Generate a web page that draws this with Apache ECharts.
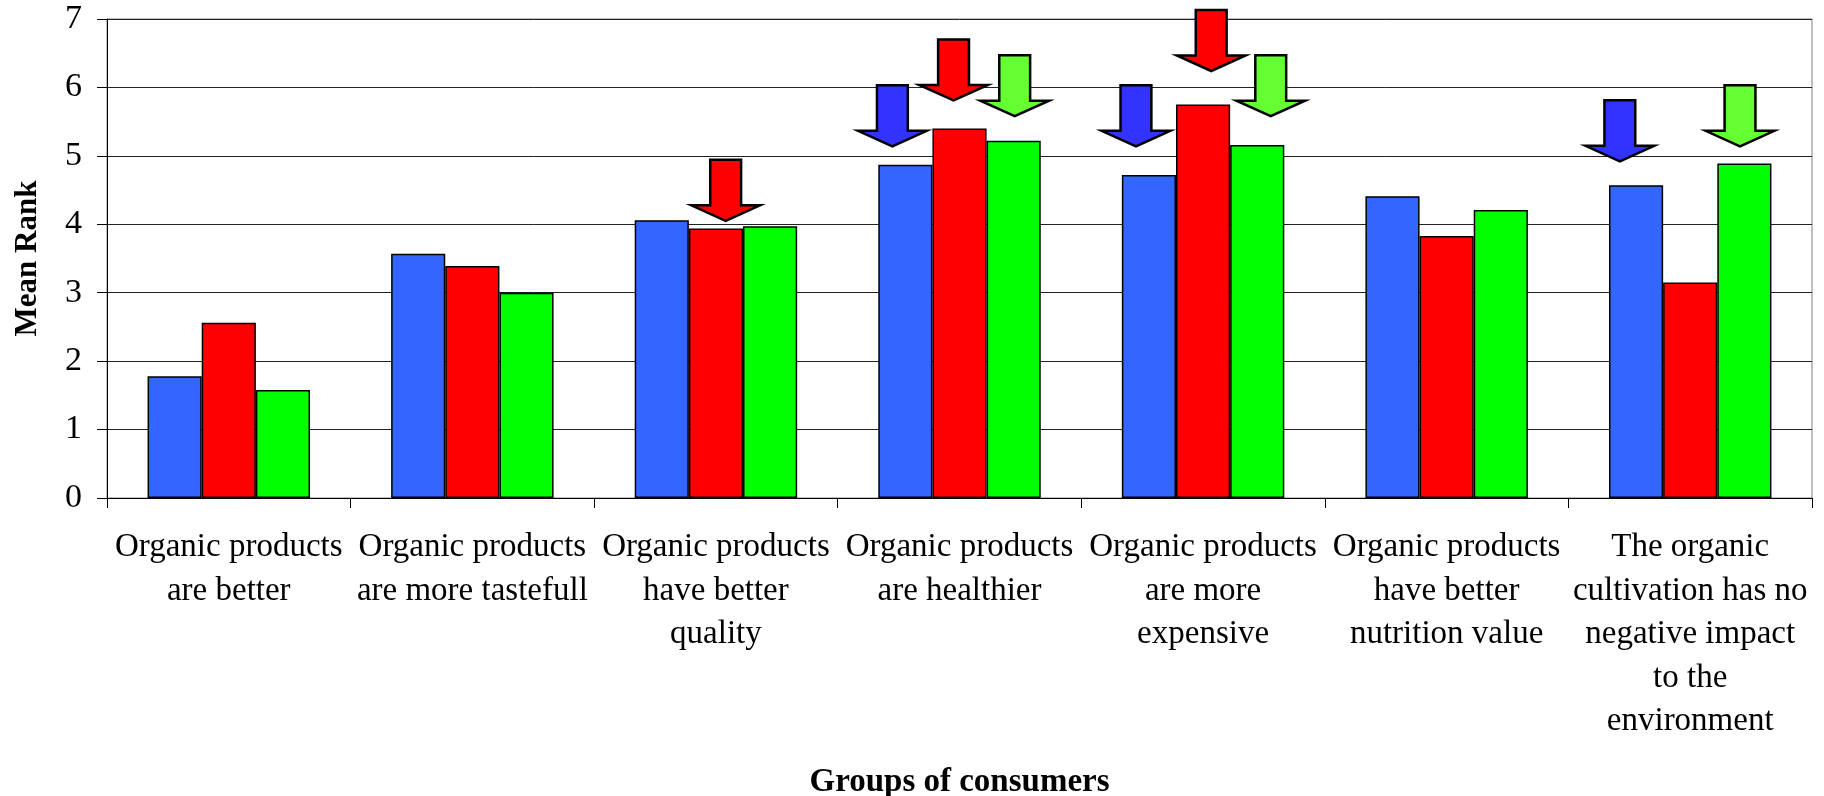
<!DOCTYPE html>
<html>
<head>
<meta charset="utf-8">
<script src="https://cdn.jsdelivr.net/npm/echarts@6/dist/echarts.min.js"></script>
<style>
html,body{margin:0;padding:0;background:#fff;}
#chart{width:1824px;height:796px;}
</style>
</head>
<body>
<div id="chart"></div>
<script>
// ---- data ----
const categories = [
  "Organic products\nare better",
  "Organic products\nare more tastefull",
  "Organic products\nhave better\nquality",
  "Organic products\nare healthier",
  "Organic products\nare more\nexpensive",
  "Organic products\nhave better\nnutrition value",
  "The organic\ncultivation has no\nnegative impact\nto the\nenvironment"
];
const seriesBlue  = [1.78, 3.57, 4.06, 4.87, 4.72, 4.41, 4.57];
const seriesRed   = [2.56, 3.39, 3.94, 5.40, 5.75, 3.83, 3.15];
const seriesGreen = [1.58, 3.00, 3.97, 5.22, 5.16, 4.21, 4.89];
const yTicks = [0, 1, 2, 3, 4, 5, 6, 7];
// highlighted bars (arrows): category index, series index, arrow tip value
const arrowCategory = [2, 3, 3, 3, 4, 4, 4, 6, 6];
const arrowSeries   = [1, 0, 1, 2, 0, 1, 2, 0, 2];
const arrowTip      = [4.05, 5.14, 5.81, 5.58, 5.14, 6.24, 5.58, 4.92, 5.14];

// ---- layout / style ----
const arrowNudge = [0.18, -0.24, -0.11, 0.02, -0.24, 0.15, 0.25, -0.30, -0.08]; // in bar widths
const barColors = ['#3366FF', '#FF0000', '#00FF00'];
const arrowColors = ['#3333FF', '#FF0000', '#66FF33'];
const FONT = '"Liberation Serif", "Times New Roman", serif';

const arrowData = arrowCategory.map((c, i) => [c, arrowSeries[i], arrowTip[i], i]);

const chart = echarts.init(document.getElementById('chart'), null, {renderer: 'canvas'});
const barStyle = (i) => ({color: barColors[i], borderColor: '#000', borderWidth: 1.5});

chart.setOption({
  animation: false,
  backgroundColor: '#fff',
  grid: {left: 107, right: 12, top: 19, bottom: 298, containLabel: false, outerBoundsMode: 'none',
         show: true, borderColor: '#808080', borderWidth: 1, backgroundColor: 'transparent'},
  xAxis: {
    type: 'category',
    data: categories,
    name: 'Groups of consumers',
    nameLocation: 'middle',
    nameGap: 268,
    nameTextStyle: {fontFamily: FONT, fontWeight: 'bold', fontSize: 33, color: '#000'},
    axisLine: {lineStyle: {color: '#000', width: 1}},
    axisTick: {show: true, length: 10, lineStyle: {color: '#000'}},
    axisLabel: {interval: 0, fontFamily: FONT, fontSize: 33, color: '#000', lineHeight: 43.5, margin: 28, align: 'center'},
    splitLine: {show: false}
  },
  yAxis: {
    type: 'value',
    min: yTicks[0],
    max: yTicks[yTicks.length - 1],
    interval: 1,
    name: 'Mean Rank',
    nameLocation: 'middle',
    nameRotate: 90,
    nameGap: 64,
    nameTextStyle: {fontFamily: FONT, fontWeight: 'bold', fontSize: 31, color: '#000'},
    axisLine: {show: true, lineStyle: {color: '#000', width: 1}},
    axisTick: {show: true, length: 10, lineStyle: {color: '#000'}},
    axisLabel: {fontFamily: FONT, fontSize: 34, color: '#000', margin: 25},
    splitLine: {show: true, lineStyle: {color: '#222', width: 1}}
  },
  series: [
    {type: 'bar', name: 'Blue', data: seriesBlue, itemStyle: barStyle(0), barGap: '0%', barCategoryGap: '33.3%', z: 2},
    {type: 'bar', name: 'Red', data: seriesRed, itemStyle: barStyle(1), barGap: '0%', barCategoryGap: '33.3%', z: 2},
    {type: 'bar', name: 'Green', data: seriesGreen, itemStyle: barStyle(2), barGap: '0%', barCategoryGap: '33.3%', z: 2},
    {
      type: 'custom',
      name: 'Arrows',
      data: arrowData,
      clip: false,
      z: 5,
      encode: {x: 0, y: 2},
      renderItem: function (params, api) {
        const cat = api.value(0), s = api.value(1), tip = api.value(2), idx = api.value(3);
        const p = api.coord([cat, tip]);
        const catW = api.size([1, 0])[0];
        const barW = catW / 4.5;
        const cx = p[0] + (s - 1) * barW + arrowNudge[idx] * barW;
        const ty = p[1];
        const headH = 15.5, shaftH = 45.5;
        const headHalf = barW * 0.635, shaftHalf = barW * 0.285;
        const pts = [
          [cx, ty],
          [cx - headHalf, ty - headH],
          [cx - shaftHalf, ty - headH],
          [cx - shaftHalf, ty - headH - shaftH],
          [cx + shaftHalf, ty - headH - shaftH],
          [cx + shaftHalf, ty - headH],
          [cx + headHalf, ty - headH]
        ];
        return {
          type: 'polygon',
          shape: {points: pts},
          style: {fill: arrowColors[s], stroke: '#000', lineWidth: 2.5, lineJoin: 'miter'}
        };
      }
    }
  ]
});
</script>
</body>
</html>
